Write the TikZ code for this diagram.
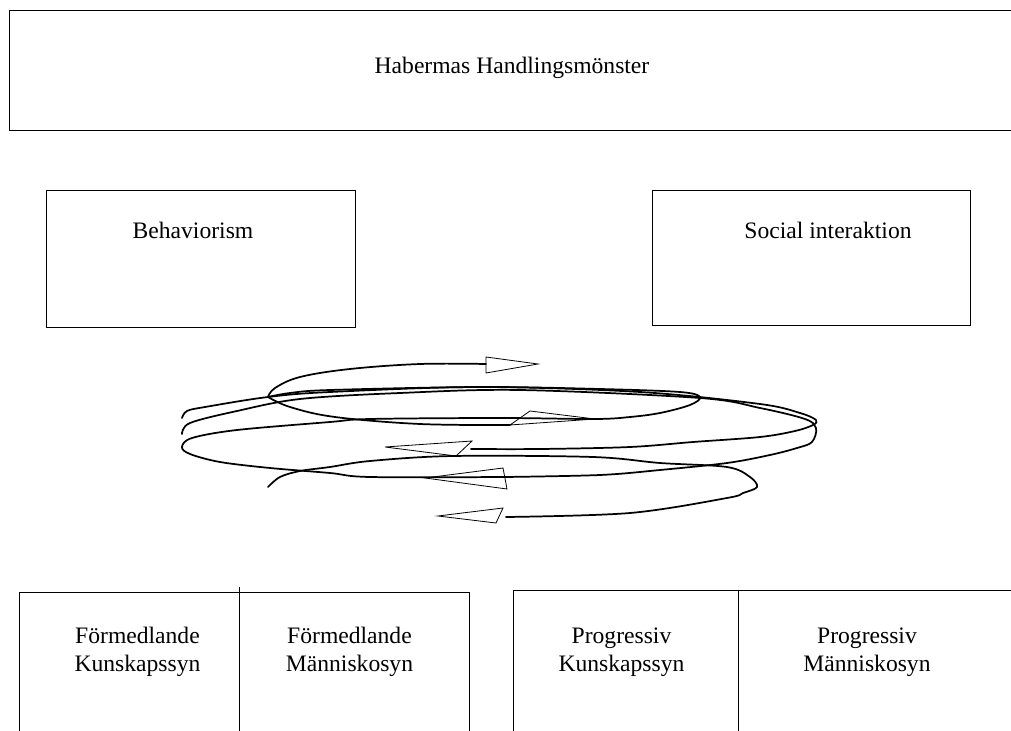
\documentclass[tikz,border=0pt]{standalone}
\usepackage{fontspec}
\setmainfont{Liberation Serif}
\begin{document}
\begin{tikzpicture}[x=0.75pt,y=-0.75pt,
  box/.style={draw=black, line width=0.65pt},
  lbl/.style={font=\fontsize{17.7}{21}\selectfont, align=center, inner sep=0pt},
  curve/.style={line width=1.3pt, line join=round, line cap=round},
  tri/.style={draw=black, line width=0.6pt, line join=miter}]
\useasboundingbox (0,0) rectangle (1011,731);
\clip (0,0) rectangle (1011,731);
% boxes
\draw[box] (1020,10) -- (9,10) -- (9,130) -- (1020,130);
\draw[box] (46,190) rectangle (355,327);
\draw[box] (652,190) rectangle (970,325);
\draw[box] (19,740) -- (19,592) -- (469,592) -- (469,740);
\draw[box] (239,587) -- (239,740);
\draw[box] (513,740) -- (513,590) -- (1020,590);
\draw[box] (738,590) -- (738,740);
% texts
\node[lbl] (title) at (512,68) {Habermas Handlingsmönster};
\node[lbl] (beh) at (193,230) {Behaviorism};
\node[lbl] (soc) at (828,230) {Social interaktion};
\node[lbl] (fk) at (137.5,652) {Förmedlande\\Kunskapssyn};
\node[lbl] (fm) at (349.5,652) {Förmedlande\\Människosyn};
\node[lbl] (pk) at (621.5,652) {Progressiv\\Kunskapssyn};
\node[lbl] (pm) at (867,652) {Progressiv\\Människosyn};
% spiral strokes
\draw[curve] plot[smooth, tension=0.6] coordinates {(268,397) (275,388) (300,377) (350,369) (420,364) (486,364)};
\draw[curve] plot[smooth, tension=0.6] coordinates {(268,397) (290,407) (335,417) (420,424) (510,425)};
\draw[curve] plot[smooth, tension=0.55] coordinates {(505,477) (370,477) (330,473) (270,468) (220,462) (190,454) (182,447) (192,438) (237,430) (330,422) (370,419) (500,418) (595,419) (630,417) (660,413) (690,405) (700,397) (680,392) (600,389) (480,387) (330,390) (290,393) (268,397)};
\draw[curve] plot[smooth, tension=0.55] coordinates {(182,418) (187,411) (205,407) (268,397) (330,392) (480,387) (640,392) (760,404) (800,413) (816,420) (813,425) (795,431) (760,437) (693,442) (630,447) (540,449) (471,449)};
\draw[curve] plot[smooth, tension=0.55] coordinates {(182,434) (190,423) (237,411) (300,399) (400,393) (520,390) (700,398) (760,408) (805,419) (816,428) (812,442) (797,448) (770,455) (727,463) (660,470) (600,475) (505,477)};
\draw[curve] plot[smooth, tension=0.55] coordinates {(268,487) (280,477) (300,471) (330,467) (370,461) (453,456) (593,457) (660,463) (727,467) (750,477) (757,487) (743,493) (727,498) (630,513) (506,517)};
% arrowheads
\draw[tri] (486,357) -- (538,364) -- (486,373) -- cycle;
\draw[tri] (510,425) -- (530,411) -- (595,419) -- cycle;
\draw[tri] (472,441) -- (385,447) -- (456,456) -- cycle;
\draw[tri] (503,468) -- (425,478) -- (507,489) -- cycle;
\draw[tri] (503,508) -- (438,516) -- (496,523) -- cycle;
\end{tikzpicture}
\end{document}
